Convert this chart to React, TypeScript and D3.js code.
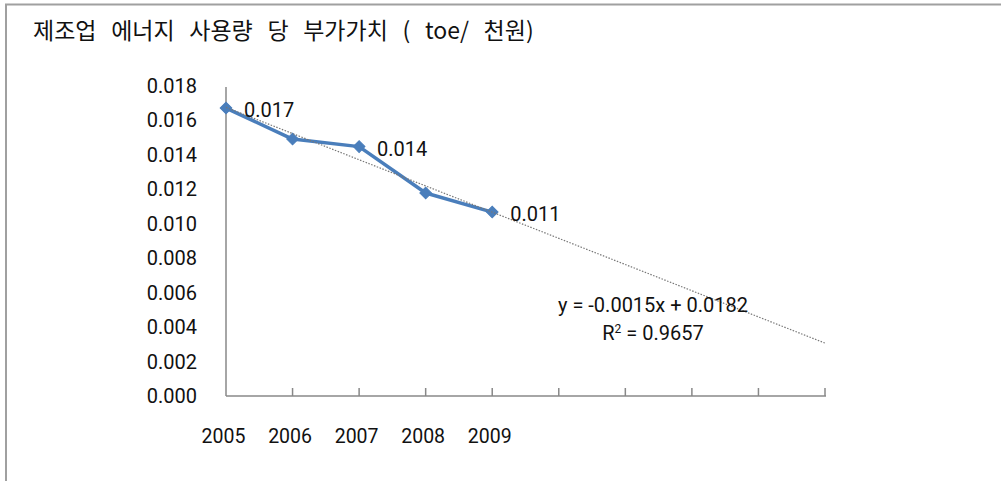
import React from "react";
import * as d3 from "d3";

const categories = ["2005", "2006", "2007", "2008", "2009", "", "", "", "", ""];
const values = [0.01672, 0.01492, 0.01448, 0.01179, 0.01068];
const labelIndexes = [0, 2, 4];
const yTicks = [0, 0.002, 0.004, 0.006, 0.008, 0.01, 0.012, 0.014, 0.016, 0.018];
const title = "제조업 에너지 사용량 당 부가가치 ( toe/ 천원)";
const equationText = "y = -0.0015x + 0.0182";
const r2Value = "0.9657";

const W = 1001;
const H = 481;
const FONT = "Roboto, 'Noto Sans', sans-serif";

export default function App() {
  const x = d3
    .scalePoint<number>()
    .domain(d3.range(categories.length))
    .range([226, 825]);
  const y = d3.scaleLinear().domain([0, 0.018]).range([396, 86]);

  // linear regression (trendline) on x = 1..n
  const xs = values.map((_, i) => i + 1);
  const mx = d3.mean(xs) as number;
  const my = d3.mean(values) as number;
  const slope =
    d3.sum(xs.map((xi, i) => (xi - mx) * (values[i] - my))) /
    d3.sum(xs.map((xi) => (xi - mx) * (xi - mx)));
  const intercept = my - slope * mx;
  const trendPts: [number, number][] = [1, categories.length].map((v) => [
    x(v - 1) as number,
    y(intercept + slope * v),
  ]);

  const line = d3
    .line<number>()
    .x((_, i) => x(i) as number)
    .y((d) => y(d));

  const marker = d3.symbol().type(d3.symbolSquare).size(68)() as string;
  const blue = "#4A7EBB";

  return (
    <svg
      width={W}
      height={H}
      style={{ position: "absolute", left: 0, top: 0, display: "block", background: "#fff" }}
    >
      {/* outer frame */}
      <path d={`M6,${H} V4.5 H${W}`} fill="none" stroke="#a0a0a0" strokeWidth={2} />

      <text
        x={33}
        y={39}
        fontFamily="'Noto Sans CJK KR', sans-serif"
        fontSize={23}
        fill="#111"
        style={{ wordSpacing: "9.5px", whiteSpace: "pre" }}
      >
        {title}
      </text>

      {/* y axis labels */}
      {yTicks.map((t) => (
        <text
          key={t}
          x={197}
          y={y(t) + 7}
          textAnchor="end"
          fontFamily={FONT}
          fontSize={20}
          fill="#111"
        >
          {t.toFixed(3)}
        </text>
      ))}

      {/* axes */}
      <line x1={226} x2={226} y1={87} y2={396} stroke="#888" strokeWidth={1.5} />
      <line x1={226} x2={826} y1={396} y2={396} stroke="#888" strokeWidth={1.5} />
      {categories.map((_, i) =>
        i === 0 ? null : (
          <line
            key={i}
            x1={x(i)}
            x2={x(i)}
            y1={396}
            y2={388}
            stroke="#888"
            strokeWidth={1.5}
          />
        )
      )}
      {categories.map((c, i) =>
        c ? (
          <text
            key={i}
            x={(x(i) as number) - 2.5}
            y={443}
            textAnchor="middle"
            fontFamily={FONT}
            fontSize={19.5}
            fill="#111"
          >
            {c}
          </text>
        ) : null
      )}

      {/* series */}
      <path d={line(values) as string} fill="none" stroke={blue} strokeWidth={3.5} strokeLinejoin="round" />
      {values.map((v, i) => (
        <path
          key={i}
          d={marker}
          transform={`translate(${x(i)},${y(v)}) rotate(45)`}
          fill={blue}
          stroke={blue}
          strokeWidth={1}
        />
      ))}

      {/* trendline */}
      <line
        x1={trendPts[0][0]}
        y1={trendPts[0][1]}
        x2={trendPts[1][0]}
        y2={trendPts[1][1]}
        stroke="#777"
        strokeWidth={1.2}
        strokeDasharray="1.5 1.5"
      />

      {/* data labels */}
      {labelIndexes.map((i) => (
        <text
          key={i}
          x={(x(i) as number) + 18}
          y={y(values[i]) + 9}
          fontFamily={FONT}
          fontSize={20}
          fill="#111"
        >
          {values[i].toFixed(3)}
        </text>
      ))}

      {/* equation */}
      <text x={653} y={311.5} textAnchor="middle" fontFamily={FONT} fontSize={20} fill="#111">
        {equationText}
      </text>
      <text x={653} y={340} textAnchor="middle" fontFamily={FONT} fontSize={20} fill="#111">
        R<tspan dy={-7} fontSize={12}>2</tspan>
        <tspan dy={7}> = {r2Value}</tspan>
      </text>
    </svg>
  );
}
